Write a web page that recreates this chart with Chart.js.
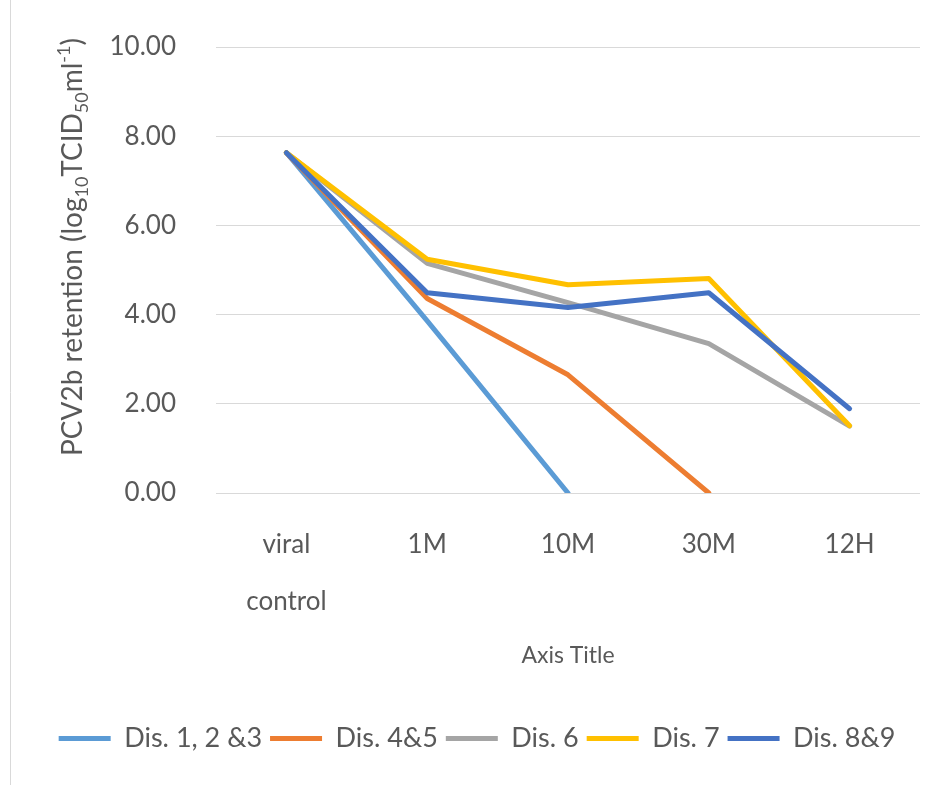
<!DOCTYPE html>
<html>
<head>
<meta charset="utf-8">
<script src="https://cdn.jsdelivr.net/npm/chart.js@4/dist/chart.umd.min.js"></script>
<style>
  html, body { margin: 0; padding: 0; background: #fff; }
  #wrap { width: 939px; height: 785px; }
</style>
</head>
<body>
<div id="wrap"><canvas id="retentionChart"></canvas></div>
<script>
// Données
const categories = [['viral', 'control'], '1M', '10M', '30M', '12H'];
const seriesNames = ['Dis. 1, 2 &3', 'Dis. 4&5', 'Dis. 6', 'Dis. 7', 'Dis. 8&9'];
const dis123 = [7.63, 3.86, 0, null, null];
const dis45 = [7.63, 4.36, 2.65, 0, null];
const dis6 = [7.63, 5.15, 4.27, 3.35, 1.5];
const dis7 = [7.63, 5.24, 4.67, 4.81, 1.51];
const dis89 = [7.63, 4.49, 4.16, 4.49, 1.89];
const yTicks = [0, 2, 4, 6, 8, 10];

const seriesColors = ['#5B9BD5', '#ED7D31', '#A5A5A5', '#FFC000', '#4472C4'];
const seriesData = [dis123, dis45, dis6, dis7, dis89];
const textColor = '#595959';

// Titre de l'axe Y avec indices / exposant
const yTitleParts = [
    { t: 'PCV2b retention (log', k: 'n' },
    { t: '10', k: 'sub' },
    { t: 'TCID', k: 'n' },
    { t: '50', k: 'sub' },
    { t: 'ml', k: 'n' },
    { t: '-1', k: 'sup' },
    { t: ')', k: 'n' }
];

const frameAndTitle = {
    id: 'frameAndTitle',
    beforeDraw(chart) {
        const c = chart.ctx;
        c.save();
        c.strokeStyle = '#d9d9d9';
        c.lineWidth = 1;
        c.beginPath();
        c.moveTo(10.5, 0);
        c.lineTo(10.5, chart.height);
        c.stroke();
        c.restore();
    },
    afterDraw(chart) {
        const c = chart.ctx;
        const big = '28px Lato, sans-serif';
        const small = '18px Lato, sans-serif';
        c.save();
        c.fillStyle = textColor;
        c.textBaseline = 'alphabetic';
        c.textAlign = 'left';
        let total = 0;
        yTitleParts.forEach(p => {
            c.font = p.k === 'n' ? big : small;
            total += c.measureText(p.t).width;
        });
        c.translate(82, 247);
        c.rotate(-Math.PI / 2);
        let x = -total / 2;
        yTitleParts.forEach(p => {
            c.font = p.k === 'n' ? big : small;
            const dy = p.k === 'sub' ? 6 : (p.k === 'sup' ? -12 : 0);
            c.fillText(p.t, x, dy);
            x += c.measureText(p.t).width;
        });
        c.restore();
    }
};

const ctx = document.getElementById('retentionChart').getContext('2d');
const retentionChart = new Chart(ctx, {
    type: 'line',
    data: {
        labels: categories,
        datasets: seriesNames.map((name, i) => ({
            label: name,
            data: seriesData[i],
            borderColor: seriesColors[i],
            backgroundColor: seriesColors[i],
            borderWidth: 5,
            borderJoinStyle: 'round',
            borderCapStyle: 'round',
            pointRadius: 0,
            pointHoverRadius: 0,
            pointStyle: 'line',
            tension: 0,
            fill: false,
            spanGaps: false,
            order: seriesNames.length - i
        }))
    },
    options: {
        responsive: true,
        maintainAspectRatio: false,
        animation: false,
        layout: { padding: { left: 34, right: 19, top: 47, bottom: 23 } },
        plugins: {
            tooltip: { enabled: false },
            legend: {
                position: 'bottom',
                labels: {
                    usePointStyle: true,
                    pointStyleWidth: 52,
                    boxWidth: 52,
                    boxHeight: 5,
                    padding: 8,
                    color: textColor,
                    font: { family: 'Lato, sans-serif', size: 27 },
                    sort: (a, b) => a.datasetIndex - b.datasetIndex
                }
            }
        },
        scales: {
            x: {
                offset: true,
                grid: { display: false },
                border: { display: false },
                ticks: {
                    color: textColor,
                    padding: 15,
                    maxRotation: 0,
                    autoSkip: false,
                    font: { family: 'Lato, sans-serif', size: 26, lineHeight: 2.2 }
                },
                title: {
                    display: true,
                    text: 'Axis Title',
                    color: textColor,
                    padding: { top: 0, bottom: 48 },
                    font: { family: 'Lato, sans-serif', size: 23 }
                },
                afterFit: (scale) => { scale.height = 224; }
            },
            y: {
                min: 0,
                max: 10,
                afterBuildTicks: (scale) => { scale.ticks = yTicks.map(v => ({ value: v })); },
                grid: { color: '#d9d9d9', lineWidth: 1, drawTicks: true, tickLength: 40, tickColor: 'rgba(0,0,0,0)' },
                border: { display: false },
                ticks: {
                    color: textColor,
                    padding: 0,
                    font: { family: 'Lato, sans-serif', size: 26 },
                    callback: (v) => Number(v).toFixed(2)
                },
                title: { display: false },
                afterFit: (scale) => { scale.width = 182; }
            }
        }
    },
    plugins: [frameAndTitle]
});
</script>
</body>
</html>
